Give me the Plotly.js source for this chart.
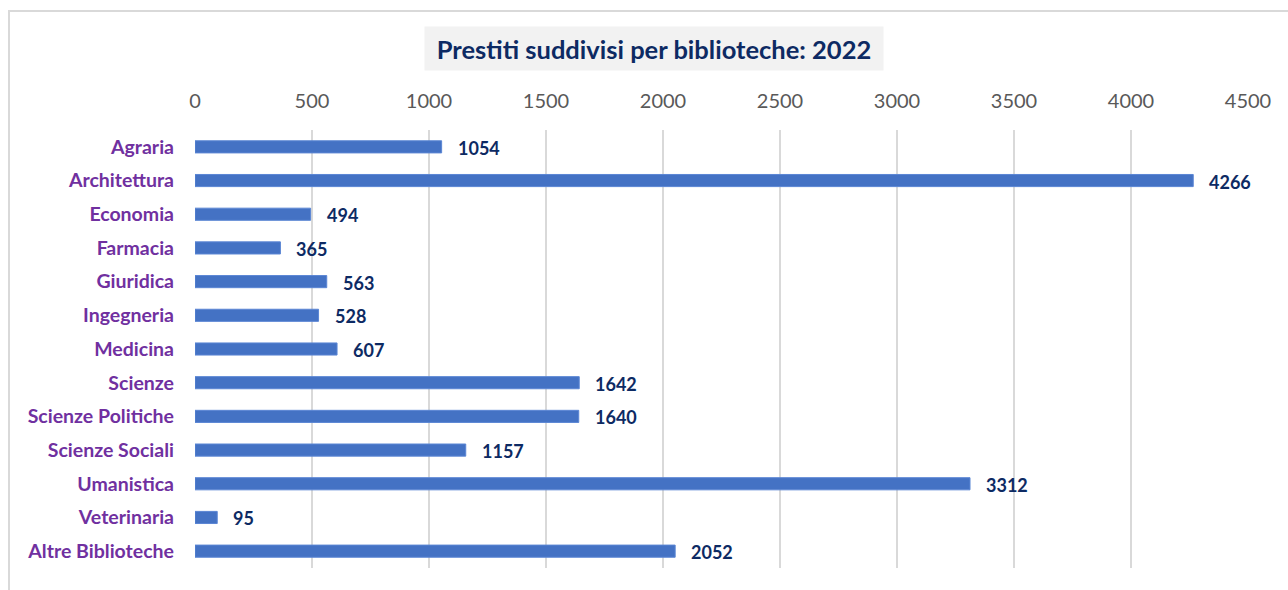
<!DOCTYPE html>
<html>
<head>
<meta charset="utf-8">
<script src="https://cdn.plot.ly/plotly-3.0.1.min.js"></script>
<style>
  html, body { margin: 0; padding: 0; background: #fff; overflow: hidden; }
  #chart { width: 1288px; height: 590px; }
  #frame { position: absolute; left: 8px; top: 10px; width: 1300px; height: 620px;
           border: 2px solid #d9d9d9; pointer-events: none; }
</style>
</head>
<body>
<div id="chart"></div>
<div id="frame"></div>
<script>
const categories = ["Agraria", "Architettura", "Economia", "Farmacia", "Giuridica", "Ingegneria",
  "Medicina", "Scienze", "Scienze Politiche", "Scienze Sociali", "Umanistica", "Veterinaria",
  "Altre Biblioteche"];
const prestiti = [1054, 4266, 494, 365, 563, 528, 607, 1642, 1640, 1157, 3312, 95, 2052];
const tickValues = [0, 500, 1000, 1500, 2000, 2500, 3000, 3500, 4000, 4500];
const chartTitle = "Prestiti suddivisi per biblioteche: 2022";

const trace = {
  type: "bar",
  orientation: "h",
  x: prestiti,
  y: categories,
  width: 0.36,
  marker: { color: "#4472c4", line: { color: "#5b86d4", width: 1 } },
  hoverinfo: "x+y"
};

const labelAnnotations = prestiti.map((v, i) => ({
  x: v, y: categories[i], xref: "x", yref: "y",
  text: String(v), showarrow: false, xanchor: "left", yanchor: "middle",
  xshift: 14, yshift: -1,
  font: { family: "Lato, 'Liberation Sans', sans-serif", size: 18, color: "#0d2a63", weight: 700 }
}));

const layout = {
  width: 1288, height: 590,
  margin: { l: 195, r: 40, t: 130, b: 22 },
  paper_bgcolor: "#ffffff", plot_bgcolor: "#ffffff",
  showlegend: false,
  xaxis: {
    side: "top",
    range: [0, 4500],
    tickvals: tickValues,
    ticktext: tickValues.map(String),
    showgrid: true, gridcolor: "#d9d9d9", gridwidth: 2,
    zeroline: false, showline: false, ticks: "",
    ticklabelstandoff: 17,
    tickfont: { family: "Lato, 'Liberation Sans', sans-serif", size: 20, color: "#595959" }
  },
  yaxis: {
    type: "category",
    categoryorder: "array", categoryarray: categories,
    range: [12.5, -0.5],
    showgrid: false, zeroline: false, showline: false, ticks: "",
    ticklabelstandoff: 20,
    tickfont: { family: "Lato, 'Liberation Sans', sans-serif", size: 19.5, color: "#7030a0", weight: 700 }
  },
  annotations: [
    {
      xref: "paper", yref: "paper",
      x: (654 - 195) / 1053, y: (568 - 48) / 438,
      xanchor: "center", yanchor: "middle",
      text: chartTitle, showarrow: false,
      bgcolor: "#f2f2f2", width: 452, height: 37, borderpad: 3,
      font: { family: "Lato, 'Liberation Sans', sans-serif", size: 25.5, color: "#0d2a63", weight: 700 }
    }
  ].concat(labelAnnotations)
};

Plotly.newPlot("chart", [trace], layout, { displayModeBar: false, staticPlot: true });
</script>
</body>
</html>
